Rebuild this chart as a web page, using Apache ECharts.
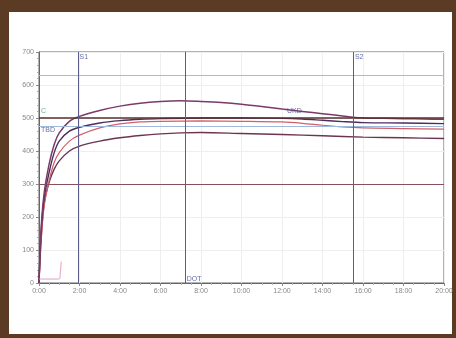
<!DOCTYPE html>
<html><head><meta charset="utf-8">
<script src="https://cdn.jsdelivr.net/npm/echarts@6/dist/echarts.min.js"></script>
<style>
html,body{margin:0;padding:0;width:456px;height:338px;background:#5b3b24;overflow:hidden}
#frame{position:absolute;left:9px;top:12px;width:443px;height:322px;background:#fff}
#c{position:absolute;left:0;top:0;width:456px;height:338px}
</style></head><body>
<div id="frame"></div>
<div id="c"></div>
<script>
// time in hours
const tTop = [0,0.1,0.25,0.5,0.75,1,1.5,2,3,4,5,6,7,8,9,10,11,12,13,14,15,15.5,16,17,18,19,20];
const vTop = [0,160,270,360,420,455,490,505,523,536,545,550,552,550,547,542,535,527,520,513,506,502,500,499,498,497,496];
const tB = [0,0.1,0.25,0.5,0.75,1,1.5,2,3,4,5,6,8,10,12,13,14,15,16,18,20];
const vB = [0,150,255,335,395,430,460,472,485,492,496,498,500,500,499,497,493,489,486,485,483];
const tRed = [0,0.1,0.25,0.5,0.75,1,1.5,2,3,4,5,6,8,10,12,13,14,15,16,18,20];
const vRed = [0,120,230,310,365,395,430,448,470,482,488,490,491,490,488,484,478,473,470,468,466];
const tLow = [0,0.1,0.25,0.5,0.75,1,1.5,2,3,4,5,6,7,8,10,12,14,16,18,20];
const vLow = [0,130,240,305,345,370,400,415,430,440,447,452,455,456,453,450,446,442,440,438];
const tPink = [0,1.0,1.05,1.1];
const vPink = [12,12,30,65];
const hLines = [500,300,475,630];
const vLines = [1.95,7.2,15.5];
const labels = [['S1',1.95,685],['S2',15.55,685],['DOT',7.25,12],['C',0.05,520],['TBD',0.05,462],['UKD',12.2,522]];
const xTicks = ['0:00','2:00','4:00','6:00','8:00','10:00','12:00','14:00','16:00','18:00','20:00'];

const zip = (t,v)=>t.map((x,i)=>[x,v[i]]);
const lineS = (name,t,v,color,w)=>({name,type:'line',data:zip(t,v),showSymbol:false,symbol:'none',smooth:0.3,lineStyle:{color,width:w||1.2},z:3});
const hColors = {500:'#5a2e2e',300:'#8a4f5c',475:'#9fb8dc',630:'#b8b8b8'};

const chart = echarts.init(document.getElementById('c'));
chart.setOption({
  animation:false,
  grid:{left:39,right:12,top:52,bottom:55,show:true,borderColor:'#666',borderWidth:1,backgroundColor:'transparent'},
  xAxis:{type:'value',min:0,max:20,interval:2,
    axisLine:{lineStyle:{color:'#666'}},axisTick:{show:true,lineStyle:{color:'#888'},length:3},
    minorTick:{show:true,splitNumber:4,length:2,lineStyle:{color:'#aaa'}},
    splitLine:{show:true,lineStyle:{color:'#eee'}},
    axisLabel:{fontSize:7,color:'#888',margin:5,formatter:v=>xTicks[v/2]}},
  yAxis:{type:'value',min:0,max:700,interval:100,
    axisLine:{show:true,lineStyle:{color:'#666'}},axisTick:{show:true,lineStyle:{color:'#888'},length:3},
    minorTick:{show:true,splitNumber:5,length:2,lineStyle:{color:'#aaa'}},
    splitLine:{show:true,lineStyle:{color:'#eee'}},
    axisLabel:{fontSize:7,color:'#888',margin:5}},
  series:[
    {type:'line',data:[],markLine:{silent:true,symbol:'none',label:{show:false},
      data:[...hLines.map(y=>({yAxis:y,lineStyle:{color:hColors[y],width:y===500?1.6:1,type:'solid'}})),
            ...vLines.map(x=>({xAxis:x,lineStyle:{color:'#5c5c8c',width:1,type:'solid'}}))]},z:2},
    lineS('low',tLow,vLow,'#6b3550',1.4),
    lineS('red',tRed,vRed,'#d0606a',1.2),
    lineS('b',tB,vB,'#4a2f5a',1.4),
    lineS('top',tTop,vTop,'#7a3a6a',1.5),
    lineS('pink',tPink,vPink,'#e59ac0',1),
    {type:'scatter',symbolSize:0,data:labels.map(l=>({value:[l[1],l[2]],name:l[0]})),
     label:{show:true,position:'right',distance:1,fontSize:7,formatter:p=>p.name,
       color:'#3c4a90'},z:5}
  ]
});
chart.setOption({series:[{},{},{},{},{},{},{data:labels.map(l=>({value:[l[1],l[2]],name:l[0],label:{color:l[0]==='C'?'#4a9a8a':'#3c4a90'}}))}]});
</script>
</body></html>
